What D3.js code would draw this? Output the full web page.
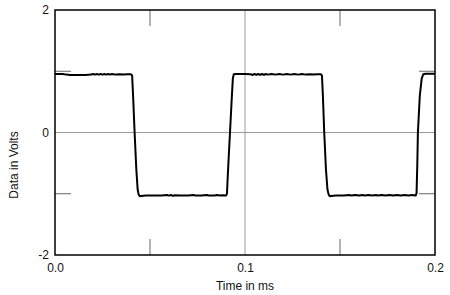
<!DOCTYPE html>
<html>
<head>
<meta charset="utf-8">
<title>Square wave</title>
<script src="https://d3js.org/d3.v7.min.js"></script>
<style>
  body { margin: 0; background: #fff; }
  text { font-family: "Liberation Sans", Arial, sans-serif; }
</style>
</head>
<body>
<div id="chart"></div>
<script>
// waveform samples (time in ms, volts)
const timeMs = [
  0.000, 0.004, 0.006, 0.008, 0.012, 0.016, 0.019, 0.020, 0.021, 0.022,
  0.023, 0.024, 0.025, 0.026, 0.027, 0.028, 0.029, 0.030, 0.032, 0.034,
  0.036, 0.038, 0.0400, 0.0406, 0.0411, 0.0419, 0.0428, 0.0435, 0.0440, 0.0446,
  0.0452, 0.048, 0.052, 0.056, 0.059, 0.060, 0.061, 0.062, 0.063, 0.066,
  0.070, 0.073, 0.074, 0.077, 0.080, 0.081, 0.084, 0.085, 0.087, 0.088,
  0.0900, 0.0905, 0.0911, 0.0921, 0.0931, 0.0936, 0.0941, 0.0950, 0.100, 0.103,
  0.104, 0.105, 0.106, 0.107, 0.108, 0.109, 0.110, 0.111, 0.112, 0.114,
  0.116, 0.118, 0.120, 0.122, 0.124, 0.126, 0.128, 0.130, 0.132, 0.134,
  0.136, 0.138, 0.1400, 0.1405, 0.1410, 0.1417, 0.1426, 0.1434, 0.1440, 0.1446,
  0.1452, 0.148, 0.152, 0.155, 0.156, 0.158, 0.160, 0.162, 0.163, 0.165,
  0.167, 0.169, 0.170, 0.172, 0.174, 0.176, 0.178, 0.180, 0.182, 0.184,
  0.186, 0.188, 0.1898, 0.1903, 0.1907, 0.1910, 0.1920, 0.1930, 0.1938, 0.1950,
  0.2000
];
const volts = [
  0.955, 0.955, 0.945, 0.94, 0.94, 0.94, 0.945, 0.955, 0.945, 0.955,
  0.945, 0.955, 0.945, 0.955, 0.945, 0.955, 0.945, 0.955, 0.945, 0.95,
  0.945, 0.95, 0.95, 0.93, 0.6, 0.0, -0.6, -0.93, -1.01, -1.04,
  -1.035, -1.03, -1.03, -1.03, -1.02, -1.03, -1.02, -1.035, -1.025, -1.03,
  -1.03, -1.02, -1.03, -1.03, -1.02, -1.03, -1.03, -1.02, -1.03, -1.025,
  -1.03, -1.0, -0.6, 0.0, 0.6, 0.88, 0.95, 0.955, 0.955, 0.95,
  0.94, 0.955, 0.94, 0.955, 0.94, 0.955, 0.94, 0.955, 0.945, 0.955,
  0.945, 0.955, 0.945, 0.955, 0.945, 0.955, 0.945, 0.955, 0.945, 0.95,
  0.945, 0.95, 0.95, 0.93, 0.6, 0.0, -0.6, -0.93, -1.01, -1.04,
  -1.035, -1.03, -1.03, -1.02, -1.03, -1.02, -1.03, -1.02, -1.03, -1.02,
  -1.03, -1.02, -1.03, -1.02, -1.03, -1.02, -1.03, -1.02, -1.03, -1.02,
  -1.03, -1.02, -1.03, -0.99, -0.5, 0.0, 0.6, 0.88, 0.95, 0.96,
  0.96
];

// axis labels and ticks
const xTicks = [0.0, 0.1, 0.2];
const xTickLabels = ["0.0", "0.1", "0.2"];
const yTicks = [-2, 0, 2];
const yTickLabels = ["-2", "0", "2"];
const xMinorTicks = [0.05, 0.15];
const yMinorTicks = [-1, 1];
const xGrid = [0.1];
const yGrid = [0];

const W = 450, H = 295;
const margin = {top: 10, right: 15, bottom: 40, left: 55};
const width = W - margin.left - margin.right;
const height = H - margin.top - margin.bottom;

const svg = d3.select('#chart')
  .append('svg')
  .attr('width', W)
  .attr('height', H);

const g = svg.append('g')
  .attr('transform', `translate(${margin.left},${margin.top})`);

const xScale = d3.scaleLinear().domain([0, 0.2]).range([0, width]);
const yScale = d3.scaleLinear().domain([-2, 2]).range([height, 0]);

// grid lines
g.selectAll('.vgrid')
  .data(xGrid)
  .enter()
  .append('line')
  .attr('x1', d => xScale(d)).attr('x2', d => xScale(d))
  .attr('y1', 0).attr('y2', height)
  .attr('stroke', '#9a9a9a').attr('stroke-width', 1);

g.selectAll('.hgrid')
  .data(yGrid)
  .enter()
  .append('line')
  .attr('x1', 0).attr('x2', width)
  .attr('y1', d => yScale(d)).attr('y2', d => yScale(d))
  .attr('stroke', '#9a9a9a').attr('stroke-width', 1);

// inner tick marks
const tickLen = 16;
xMinorTicks.forEach(t => {
  g.append('line')
    .attr('x1', xScale(t)).attr('x2', xScale(t))
    .attr('y1', 0).attr('y2', tickLen)
    .attr('stroke', '#666');
  g.append('line')
    .attr('x1', xScale(t)).attr('x2', xScale(t))
    .attr('y1', height).attr('y2', height - tickLen)
    .attr('stroke', '#666');
});
yMinorTicks.forEach(v => {
  g.append('line')
    .attr('x1', 0).attr('x2', tickLen)
    .attr('y1', yScale(v)).attr('y2', yScale(v))
    .attr('stroke', '#666');
  g.append('line')
    .attr('x1', width).attr('x2', width - tickLen)
    .attr('y1', yScale(v)).attr('y2', yScale(v))
    .attr('stroke', '#666');
});

// waveform
const points = timeMs.map((t, i) => [t, volts[i]]);
const line = d3.line()
  .x(d => xScale(d[0]))
  .y(d => yScale(d[1]));

g.append('path')
  .datum(points)
  .attr('d', line)
  .attr('fill', 'none')
  .attr('stroke', '#000')
  .attr('stroke-width', 2)
  .attr('stroke-linejoin', 'round');

// frame
g.append('rect')
  .attr('x', 0).attr('y', 0)
  .attr('width', width).attr('height', height)
  .attr('fill', 'none')
  .attr('stroke', '#000')
  .attr('stroke-width', 1.5);

// axes (labels only)
const xAxis = d3.axisBottom(xScale)
  .tickValues(xTicks)
  .tickFormat((d, i) => xTickLabels[i])
  .tickSize(0)
  .tickPadding(8);

const yAxis = d3.axisLeft(yScale)
  .tickValues(yTicks)
  .tickFormat((d, i) => yTickLabels[i])
  .tickSize(0)
  .tickPadding(6);

const gx = g.append('g')
  .attr('transform', `translate(0,${height})`)
  .call(xAxis);
const gy = g.append('g').call(yAxis);

[gx, gy].forEach(a => {
  a.select('.domain').remove();
  a.selectAll('text')
    .attr('font-size', 12)
    .attr('font-family', '"Liberation Sans", Arial, sans-serif')
    .attr('fill', '#111');
});

svg.append('text')
  .attr('x', margin.left + width / 2)
  .attr('y', 290)
  .attr('text-anchor', 'middle')
  .attr('font-size', 12)
  .attr('fill', '#111')
  .text('Time in ms');

svg.append('text')
  .attr('transform', 'translate(18,165) rotate(-90)')
  .attr('text-anchor', 'middle')
  .attr('font-size', 12)
  .attr('fill', '#111')
  .text('Data in Volts');
</script>
</body>
</html>
